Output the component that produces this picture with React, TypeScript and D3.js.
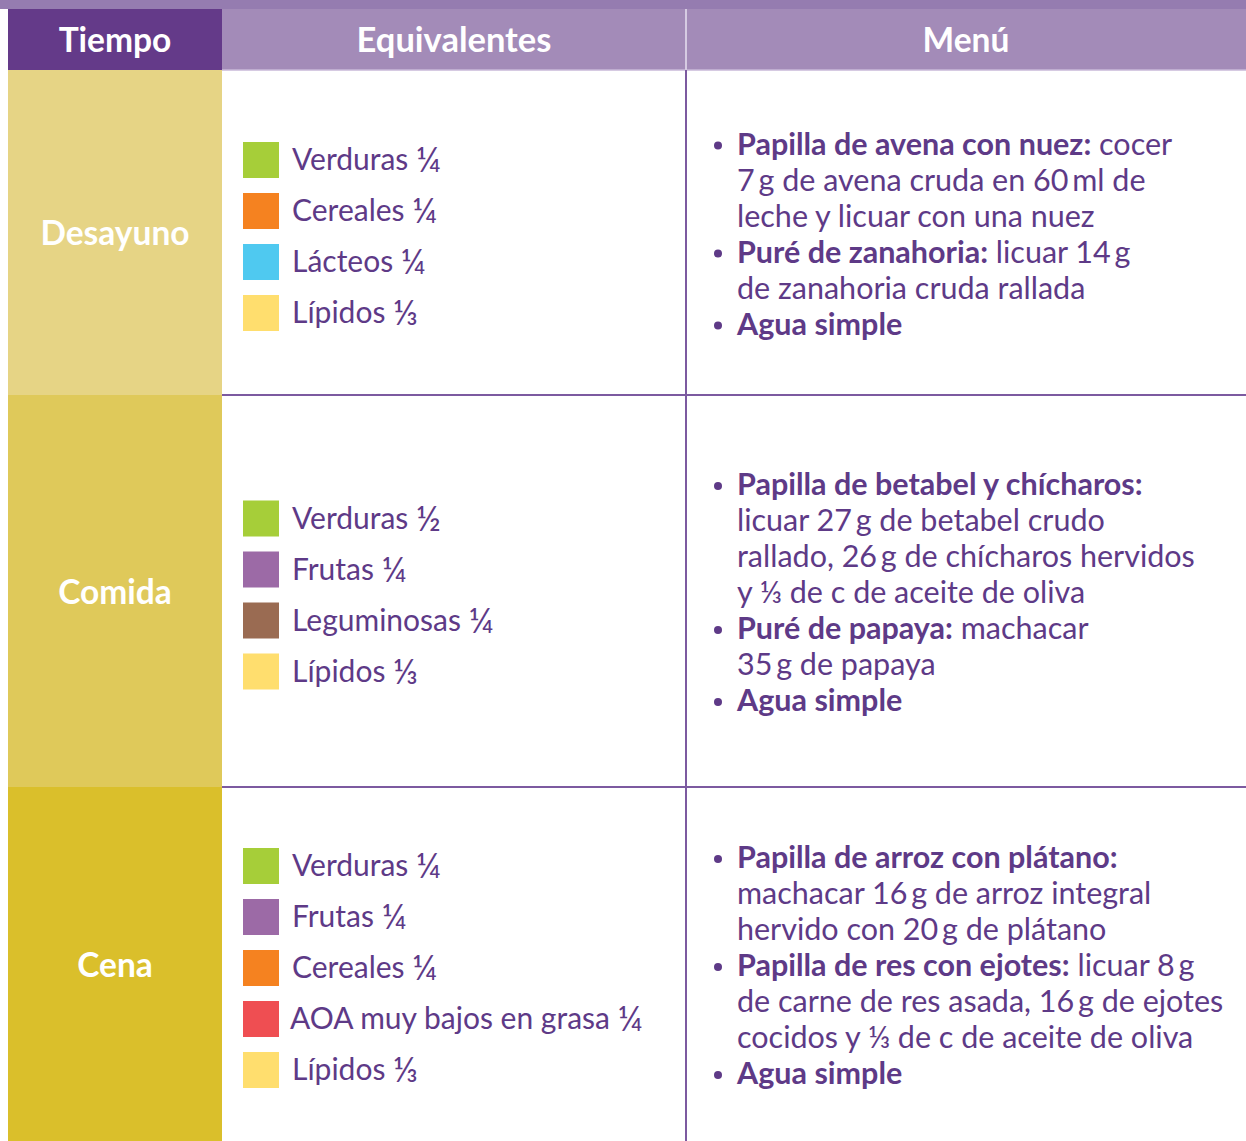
import React from 'react'
import * as d3 from 'd3'

type Seg = { b?: boolean, t: string }
type Line = { bullet?: boolean, segs: Seg[] }

const headers = ['Tiempo', 'Equivalentes', 'Menú']
const meals = ['Desayuno', 'Comida', 'Cena']

const groupColors: Record<string, string> = {
  Verduras: '#a6ce39',
  Cereales: '#f58220',
  'Lácteos': '#4fc9f0',
  'Lípidos': '#ffde6e',
  Frutas: '#9c6aa6',
  Leguminosas: '#9a6b52',
  'AOA muy bajos en grasa': '#ef4e52',
}

const desayunoEq = [['Verduras', '¼'], ['Cereales', '¼'], ['Lácteos', '¼'], ['Lípidos', '⅓']]
const comidaEq = [['Verduras', '½'], ['Frutas', '¼'], ['Leguminosas', '¼'], ['Lípidos', '⅓']]
const cenaEq = [['Verduras', '¼'], ['Frutas', '¼'], ['Cereales', '¼'], ['AOA muy bajos en grasa', '¼'], ['Lípidos', '⅓']]

// thin space between numbers and units, as in the original
const desayunoMenu: Line[] = [
  { bullet: true, segs: [{ b: true, t: 'Papilla de avena con nuez:' }, { t: ' cocer' }] },
  { segs: [{ t: '7\u2009g de avena cruda en 60\u2009ml de' }] },
  { segs: [{ t: 'leche y licuar con una nuez' }] },
  { bullet: true, segs: [{ b: true, t: 'Puré de zanahoria:' }, { t: ' licuar 14\u2009g' }] },
  { segs: [{ t: 'de zanahoria cruda rallada' }] },
  { bullet: true, segs: [{ b: true, t: 'Agua simple' }] },
]
const comidaMenu: Line[] = [
  { bullet: true, segs: [{ b: true, t: 'Papilla de betabel y chícharos:' }] },
  { segs: [{ t: 'licuar 27\u2009g de betabel crudo' }] },
  { segs: [{ t: 'rallado, 26\u2009g de chícharos hervidos' }] },
  { segs: [{ t: 'y ⅓ de c de aceite de oliva' }] },
  { bullet: true, segs: [{ b: true, t: 'Puré de papaya:' }, { t: ' machacar' }] },
  { segs: [{ t: '35\u2009g de papaya' }] },
  { bullet: true, segs: [{ b: true, t: 'Agua simple' }] },
]
const cenaMenu: Line[] = [
  { bullet: true, segs: [{ b: true, t: 'Papilla de arroz con plátano:' }] },
  { segs: [{ t: 'machacar 16\u2009g de arroz integral' }] },
  { segs: [{ t: 'hervido con 20\u2009g de plátano' }] },
  { bullet: true, segs: [{ b: true, t: 'Papilla de res con ejotes:' }, { t: ' licuar 8\u2009g' }] },
  { segs: [{ t: 'de carne de res asada, 16\u2009g de ejotes' }] },
  { segs: [{ t: 'cocidos y ⅓ de c de aceite de oliva' }] },
  { bullet: true, segs: [{ b: true, t: 'Agua simple' }] },
]

const equivalents = [desayunoEq, comidaEq, cenaEq]
const menus = [desayunoMenu, comidaMenu, cenaMenu]

const W = 1246
const H = 1141
const FONT = 'Lato, "Open Sans", sans-serif'
const TEXT = '#5e3a87'
const LINE = '#7c5aa0'
const rowColors = ['#e6d485', '#dfc95a', '#dabf2b']

export default function App() {
  // column edges
  const colX = [8, 222, 686, W]
  // row edges: header then the three meals
  const rowY = d3.scaleOrdinal<string, [number, number]>()
    .domain(['head', ...meals])
    .range([[9, 70], [70, 395], [395, 787], [787, H]])

  const eqStep = 51
  const menuStep = 36

  return (
    <svg width={W} height={H} style={{ position: 'absolute', left: 0, top: 0, background: '#fff' }}
      fontFamily={FONT}>
      <rect x={0} y={0} width={W} height={9} fill='#957cb0' />
      {/* header */}
      {headers.map((h, i) => {
        const [y0, y1] = rowY('head')
        return (
          <g key={h}>
            <rect x={colX[i]} y={y0} width={colX[i + 1] - colX[i]} height={y1 - y0}
              fill={i === 0 ? '#643a89' : '#a38bb8'} />
            <text x={(colX[i] + colX[i + 1]) / 2} y={(y0 + y1) / 2 + 4} textAnchor='middle'
              dominantBaseline='middle' fill='#fff' fontWeight={700}
              fontSize={i === 1 ? 34.5 : 33.5}>{h}</text>
          </g>
        )
      })}
      <line x1={colX[1]} x2={W} y1={70} y2={70} stroke='#c9b9d8' strokeWidth={1.5} />

      {meals.map((m, r) => {
        const [y0, y1] = rowY(m)
        const cy = (y0 + y1) / 2
        const eq = equivalents[r]
        const menu = menus[r]
        const eqY = d3.scaleLinear().domain([0, eq.length - 1])
          .range([cy + 4 - (eq.length - 1) * eqStep / 2, cy + 4 + (eq.length - 1) * eqStep / 2])
        const mY = d3.scaleLinear().domain([0, menu.length - 1])
          .range([cy + 2 - (menu.length - 1) * menuStep / 2, cy + 2 + (menu.length - 1) * menuStep / 2])
        return (
          <g key={m}>
            <rect x={colX[0]} y={y0} width={colX[1] - colX[0]} height={y1 - y0} fill={rowColors[r]} />
            <text x={(colX[0] + colX[1]) / 2} y={cy + 4} textAnchor='middle' dominantBaseline='middle'
              fill='#fff' fontWeight={700} fontSize={33.5}>{m}</text>
            {eq.map(([name, frac], i) => (
              <g key={name} transform={`translate(0,${eqY(i)})`}>
                <rect x={243} y={-18} width={36} height={36} fill={groupColors[name]} />
                <text x={name.startsWith('AOA') ? 290 : 292} y={10} fill={TEXT} fontSize={30}>
                  {name} <tspan fontSize={34} dy={2}>{frac}</tspan>
                </text>
              </g>
            ))}
            {menu.map((ln, i) => (
              <g key={i} transform={`translate(0,${mY(i)})`}>
                {ln.bullet && <circle cx={718} cy={1} r={4} fill={TEXT} />}
                <text x={737} y={10} fill={TEXT} fontSize={30.5}>
                  {ln.segs.map((s, j) => (
                    <tspan key={j} fontWeight={s.b ? 700 : 400}>{s.t}</tspan>
                  ))}
                </text>
              </g>
            ))}
            {r > 0 && <line x1={colX[1]} x2={W} y1={y0} y2={y0} stroke={LINE} strokeWidth={2} />}
          </g>
        )
      })}
      <line x1={colX[2]} x2={colX[2]} y1={9} y2={H} stroke={LINE} strokeWidth={2} />
      <line x1={colX[2]} x2={colX[2]} y1={9} y2={70} stroke='#d6cbe2' strokeWidth={2} />
    </svg>
  )
}
